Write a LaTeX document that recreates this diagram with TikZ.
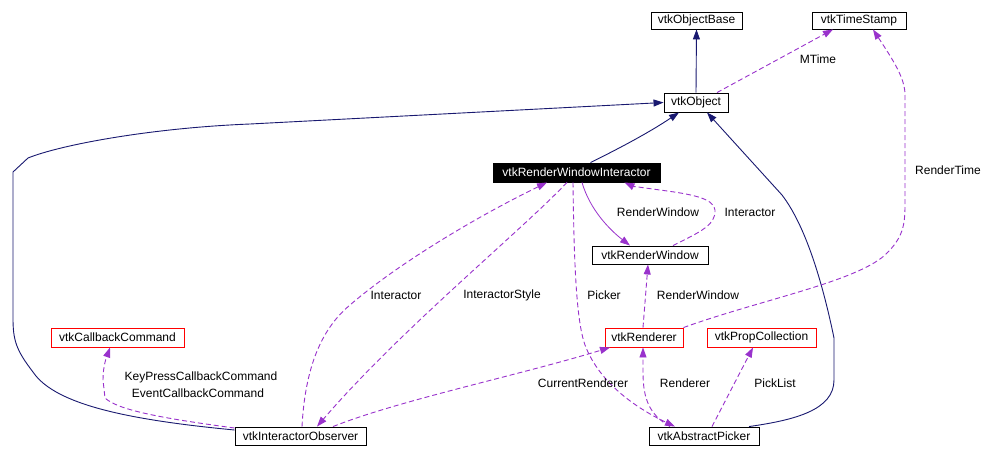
\documentclass[tikz,border=0pt]{standalone}
\usepackage{fontspec}
\setmainfont{Liberation Sans}
\usetikzlibrary{arrows.meta}
\definecolor{navyc}{RGB}{25,25,112}
\definecolor{purp}{RGB}{153,50,204}
\tikzset{
  cls/.style={draw=black, line width=0.9pt, inner sep=0pt, font=\fontsize{12}{14}\selectfont, fill=white},
  redcls/.style={cls, draw=red},
  hl/.style={cls, fill=black, text=white},
  inh/.style={draw=navyc, line width=0.9pt, -{Triangle[length=10pt,width=7pt]}},
  use/.style={draw=purp, line width=0.9pt, dash pattern=on 5pt off 3pt, -{Triangle[length=10pt,width=7pt]}},
  usesolid/.style={draw=purp, line width=0.8pt, -{Triangle[length=10pt,width=7pt]}},
  lbl/.style={font=\fontsize{12}{14}\selectfont, inner sep=0pt, text=black},
}
\begin{document}
\begin{tikzpicture}[x=1pt,y=-1pt]
\useasboundingbox[fill=white] (0,0) rectangle (988,458);
% nodes
\node[cls, minimum width=91pt, minimum height=17pt] (ob) at (696.5,20.5) {vtkObjectBase};
\node[cls, minimum width=94pt, minimum height=17pt] (ts) at (859,20.5) {vtkTimeStamp};
\node[cls, minimum width=64pt, minimum height=19pt] (obj) at (696,102.5) {vtkObject};
\node[hl, minimum width=167pt, minimum height=19pt] (rwi) at (576.5,172.5) {vtkRenderWindowInteractor};
\node[cls, minimum width=116pt, minimum height=18pt] (rw) at (650,255) {vtkRenderWindow};
\node[redcls, minimum width=133pt, minimum height=19pt] (cc) at (117.5,337.5) {vtkCallbackCommand};
\node[cls, minimum width=131pt, minimum height=18pt] (io) at (300.5,436) {vtkInteractorObserver};
\node[redcls, minimum width=78pt, minimum height=19pt] (ren) at (644,337.5) {vtkRenderer};
\node[redcls, minimum width=109pt, minimum height=19pt] (pc) at (761.5,337.5) {vtkPropCollection};
\node[cls, minimum width=110pt, minimum height=18pt] (ap) at (704,436) {vtkAbstractPicker};
% inheritance
\draw[inh] (obj.north) -- (ob.south);
\draw[inh] ([xshift=14pt]rwi.north) .. controls (620,148) and (650,132) .. ([xshift=-17pt]obj.south);
\draw[inh] ([xshift=45pt]ap.north) .. controls (795,420) and (834,410) .. (834,380) -- (834,338) .. controls (822,280) and (805,225) .. (782,195) -- ([xshift=11pt]obj.south);
\draw[inh] ([yshift=6pt]io.west) .. controls (130,420) and (55,405) .. (33,372) .. controls (16,350) and (13,340) .. (13,318) -- (13,172) -- (28,158) .. controls (60,145) and (150,128) .. (250,124) -- (obj.west);
% usage
\draw[use] ([xshift=21pt]obj.north) -- ([xshift=-26pt]ts.south);
\node[lbl] (lmtime) at (818,59) {MTime};
\draw[usesolid] ([xshift=5.5pt]rwi.south) .. controls (590,210) and (610,230) .. ([xshift=-20pt]rw.north);
\node[lbl] (lrw1) at (658,212) {RenderWindow};
\draw[use] ([xshift=23pt]rw.north) .. controls (700,232) and (716,225) .. (715,210) .. controls (714,198) and (690,194) .. (660,190) .. controls (645,188) and (632,186) .. ([xshift=48pt]rwi.south);
\node[lbl] (linter1) at (750,212) {Interactor};
\draw[use] ([xshift=-1pt]ren.north) -- ([xshift=-2pt]rw.south);
\node[lbl] (lrw2) at (698,295) {RenderWindow};
\draw[use] (ren.north east) .. controls (760,300) and (855,282) .. (885,255) .. controls (903,238) and (905,225) .. (905,205) -- (905,95) .. controls (905,78) and (893,60) .. ([xshift=14pt]ts.south);
\node[lbl] (lrt) at (948,170) {RenderTime};
\draw[use] ([xshift=1.5pt]io.north) .. controls (305,370) and (320,330) .. (350,305) .. controls (400,262) and (480,215) .. ([xshift=-29.5pt]rwi.south);
\node[lbl] (linter2) at (396,295) {Interactor};
\draw[use] ([xshift=-9.5pt]rwi.south) .. controls (520,232) and (400,330) .. ([xshift=16.5pt]io.north);
\node[lbl] (lis) at (502,295) {InteractorStyle};
\draw[use] ([xshift=-3.5pt]rwi.south) .. controls (574,260) and (576,320) .. (585,345) .. controls (600,385) and (640,410) .. ([xshift=-29pt]ap.north);
\node[lbl] (lpick) at (604,295) {Picker};
\draw[use] ([xshift=-34pt]ap.north) .. controls (650,415) and (643,400) .. (643,372) -- ([xshift=-1pt]ren.south);
\node[lbl] (lren) at (685,383) {Renderer};
\draw[use] ([xshift=32.5pt]io.north) .. controls (400,400) and (520,375) .. ([xshift=-34pt]ren.south);
\node[lbl] (lcr) at (583,383) {CurrentRenderer};
\draw[use] ([xshift=8pt]ap.north) -- ([xshift=-8.5pt]pc.south);
\node[lbl] (lpl) at (775,383) {PickList};
\draw[use] ([yshift=8pt]io.west) .. controls (160,418) and (118,410) .. (105,398) -- (103,380) .. controls (103,365) and (107,356) .. ([xshift=-7.5pt]cc.south);
\node[lbl] (lkp) at (201,377) {KeyPressCallbackCommand};
\node[lbl] (lec) at (198,393) {EventCallbackCommand};
\end{tikzpicture}
\end{document}
